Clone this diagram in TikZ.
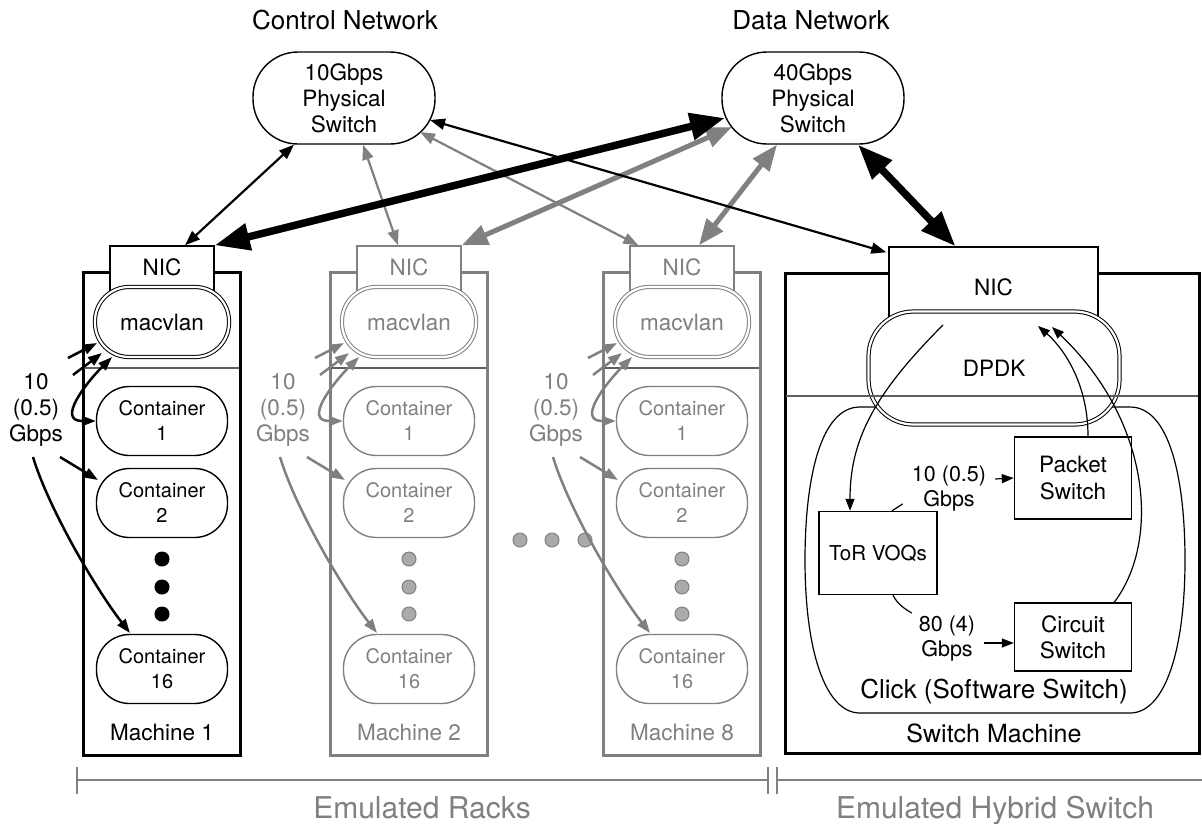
\documentclass[tikz,border=0pt]{standalone}
\usepackage{fontspec}
\setmainfont{TeX Gyre Heros}
\usepackage{tikz}
\usetikzlibrary{arrows.meta,calc,positioning}
\definecolor{mgray}{HTML}{808080}
\definecolor{sepgray}{HTML}{5E5E5E}
\definecolor{dotgray}{HTML}{AAAAAA}
\newcommand{\fsz}[2]{\fontsize{#1}{#2}\selectfont}
\tikzstyle{pill}=[draw, fill=white, align=center, line width=1.4pt, inner sep=1pt]
\tikzstyle{dbl}=[double, line width=1pt, double distance=2.2pt]
\tikzstyle{blk}=[draw, fill=white, align=center, line width=1.4pt, inner sep=1pt]
\tikzstyle{dot}=[circle, inner sep=0pt, minimum size=14pt, line width=1pt]
\tikzstyle{rate}=[align=center, inner sep=2pt]
\tikzstyle{ctrl}=[line width=2.2pt, >={Triangle[length=15pt,width=11pt]}, <->]
\tikzstyle{fat}=[line width=5pt, >={Triangle[length=26pt,width=20pt]}, <->]
\tikzstyle{fatter}=[line width=7.5pt, >={Triangle[length=35pt,width=26pt]}, <->]
\tikzstyle{link}=[line width=2.5pt, >={Triangle[length=14pt,width=10pt]}, ->]
\tikzstyle{flow}=[line width=1.2pt, >={Triangle[length=12pt,width=9pt]}, ->]
\begin{document}
\begin{tikzpicture}[x=1pt, y=-1pt, font=\fsz{22.5}{26}]
  \useasboundingbox (0,0) rectangle (1202,823);

  \node (cnet) at (345,20) {\fsz{26}{30}Control Network};
  \node (dnet) at (811,20) {\fsz{26}{30}Data Network};
  \node[pill, rounded corners=45pt, minimum width=182pt, minimum height=92pt]
    (csw) at (344,98) {10Gbps\\Physical\\Switch};
  \node[pill, rounded corners=45pt, minimum width=182pt, minimum height=92pt]
    (dsw) at (813,98) {40Gbps\\Physical\\Switch};

  \foreach \dx in {520,552,585}
    \node[dot, fill=dotgray, draw=mgray] (gap\dx) at (\dx,540) {};

  \foreach \mx/\m/\c/\dc in {162/1/black/black, 409/2/mgray/dotgray, 682/8/mgray/dotgray} {
    \draw[\c, line width=3pt] (\mx-79,272) rectangle (\mx+78,755);
    \draw[sepgray, line width=2pt] (\mx-78,368) -- (\mx+77,368);
    \node[blk, draw=\c, text=\c, minimum width=104pt, minimum height=56pt,
      text depth=14pt] (nic\m) at (\mx,274) {NIC};
    \node[pill, dbl, draw=\c, text=\c, rounded corners=34pt, minimum width=134pt,
      minimum height=70pt] (mac\m) at (\mx,322) {macvlan};
    \node[pill, draw=\c, text=\c, rounded corners=33pt, minimum width=131pt,
      minimum height=69pt, font=\fsz{20}{25}] (first\m) at (\mx,421) {Container\\1};
    \node[pill, draw=\c, text=\c, rounded corners=33pt, minimum width=131pt,
      minimum height=69pt, font=\fsz{20}{25}] (second\m) at (\mx,503) {Container\\2};
    \node[pill, draw=\c, text=\c, rounded corners=33pt, minimum width=131pt,
      minimum height=69pt, font=\fsz{20}{25}] (last\m) at (\mx,669) {Container\\16};
    \foreach \dy in {559,587,614}
      \node[dot, fill=\dc, draw=\c] (dot\m-\dy) at (\mx,\dy) {};
    \node[text=\c] (mname\m) at (\mx,732) {Machine \m};
    \node[rate, text=\c] (rate\m) at (\mx-126,410) {10\\(0.5)\\Gbps};
    \draw[link, \c] ($(rate\m)+(32,-52)$) -- ($(mac\m)+(-65,21)$);
    \draw[link, \c] ($(rate\m)+(37,-35)$) -- ($(mac\m)+(-60,31)$);
    \draw[link, \c, <->] (first\m.west) .. controls +(-40,0) and +(-25,25) .. ($(mac\m)+(-50,35)$);
    \draw[link, \c] ($(rate\m)+(24,47)$) -- ($(second\m)+(-64,-23)$);
    \draw[link, \c] ($(rate\m)+(-3,47)$) .. controls +(15,50) and +(-35,-45) .. ($(last\m)+(-32,-36)$);
  }

  \draw[line width=3pt] (785,273) rectangle (1199,753);
  \draw[line width=1.2pt] (860,407) -- (1130,407) .. controls (1170,407) and (1185,480) .. (1185,560)
    .. controls (1185,650) and (1165,713) .. (1130,713) -- (860,713)
    .. controls (825,713) and (805,650) .. (805,560) .. controls (805,480) and (820,407) .. (860,407) -- cycle;
  \node[blk, minimum width=209pt, minimum height=80pt] (nicS) at (993.5,287) {NIC};
  \node[pill, dbl, rounded corners=45pt, minimum width=251pt, minimum height=113pt]
    (dpdk) at (994,368) {DPDK};
  \draw[sepgray, line width=2pt] (786,396) -- (1198,396);
  \node[font=\fsz{26}{30}] (click) at (994,692) {Click (Software Switch)};
  \node[font=\fsz{25}{30}] (smach) at (994,733) {Switch Machine};
  \node[blk, minimum width=117pt, minimum height=82pt, font=\fsz{22.5}{27}]
    (pkt) at (1073,478) {Packet\\Switch};
  \node[blk, minimum width=117pt, minimum height=68pt] (cir) at (1073,637) {Circuit\\Switch};
  \node[blk, minimum width=118pt, minimum height=83pt, font=\fsz{20.5}{24}]
    (tor) at (878,553) {ToR VOQs};
  \node[rate, font=\fsz{21.5}{25}] (rateP) at (949,488) {10 (0.5)\\Gbps};
  \node[rate, font=\fsz{21.5}{25}] (rateC) at (947,638) {80 (4)\\Gbps};

  \draw[line width=1.2pt] ($(tor.north)+(14,0)$) -- ($(rateP.south west)+(-7,-9)$);
  \draw[flow] ($(rateP.east)+(7,-9)$) -- (pkt.west);
  \draw[line width=1.2pt] ($(tor.south)+(15,0)$) .. controls +(5,10) and +(-6,-4) .. ($(rateC.north west)+(-5,0)$);
  \draw[flow] ($(rateC.east)+(7,5)$) -- ($(cir.west)+(0,6)$);
  \draw[flow] ($(dpdk)+(-51,-43)$) .. controls +(-70,70) and +(0,-70) .. ($(tor.north)+(-28,0)$);
  \draw[flow] ($(pkt.north)+(15,0)$) .. controls +(0,-57) and +(22,19) .. ($(dpdk)+(44,-42)$);
  \draw[flow] ($(cir.north east)+(-18,0)$) .. controls +(47,-62) and +(98,93) .. ($(dpdk)+(58,-41)$);

  \draw[ctrl, mgray] ($(csw.south)+(19,0)$) -- ($(nic2.north)+(-11,0)$);
  \draw[ctrl, mgray] ($(csw)+(76,34)$) -- ($(nic8.north west)+(9,0)$);
  \draw[fat, mgray] ($(dsw)+(-81,29)$) -- (nic2.north east);
  \draw[fat, mgray] ($(dsw.south)+(-36,0)$) -- ($(nic8.north)+(17,0)$);
  \draw[ctrl] ($(csw.south)+(-50,0)$) -- ($(nic1.north)+(23,0)$);
  \draw[ctrl] ($(csw)+(86,22)$) -- ($(nicS.north west)+(-2,6)$);
  \draw[fatter] ($(dsw)+(-88,20)$) -- (nic1.north east);
  \draw[fatter] ($(dsw.south)+(45,0)$) -- ($(nicS.north)+(-38,0)$);

  \draw[mgray, line width=2.5pt] (77,767) -- (77,794) (77,780) -- (768,780)
    (768,767) -- (768,794) (777,767) -- (777,794) (777,780) -- (1202,780);
  \node[anchor=base, text=mgray, font=\fsz{30}{34}] (racks) at (422,818) {Emulated Racks};
  \node[anchor=base, text=mgray, font=\fsz{30}{34}] (hybrid) at (995,818) {Emulated Hybrid Switch};
\end{tikzpicture}
\end{document}
